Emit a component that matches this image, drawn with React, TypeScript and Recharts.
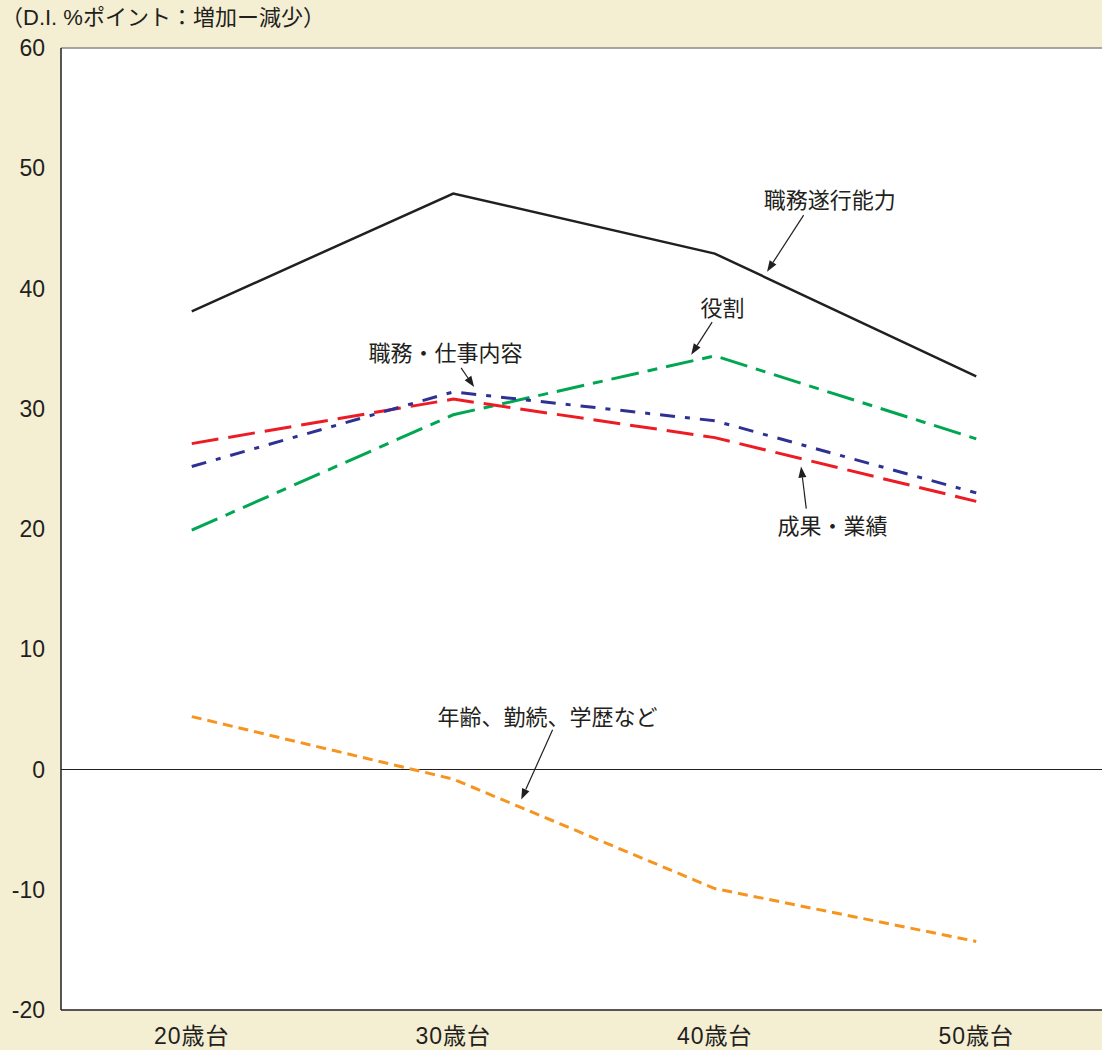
import React from 'react';
import {
  LineChart,
  Line,
  XAxis,
  YAxis,
  CartesianGrid,
  ReferenceLine,
  ReferenceDot,
} from 'recharts';

// Age groups along the horizontal axis
const ageGroups = ['20歳台', '30歳台', '40歳台', '50歳台'];

// D.I. (% points, increase minus decrease) for each evaluation factor
const jobPerformance = [38.1, 47.9, 42.9, 32.7]; // 職務遂行能力
const role = [19.9, 29.5, 34.4, 27.5]; // 役割
const jobContent = [25.2, 31.4, 29.0, 23.0]; // 職務・仕事内容
const results = [27.1, 30.8, 27.6, 22.3]; // 成果・業績
const seniority = [4.4, -0.8, -9.9, -14.3]; // 年齢、勤続、学歴など

const yTicks = [-20, -10, 0, 10, 20, 30, 40, 50, 60];
const xTicks = [0, 1, 2, 3];

// Callout labels with arrows, in data coordinates (x = age-group index, y = D.I.)
const callouts = [
  { text: '職務遂行能力', x: 2.44, y: 47.3, from: [2.34, 46.1], to: [2.2, 41.4] },
  { text: '役割', x: 2.03, y: 38.3, from: [1.99, 37.2], to: [1.91, 34.5] },
  { text: '職務・仕事内容', x: 0.97, y: 34.6, from: [1.03, 33.4], to: [1.08, 31.8] },
  { text: '成果・業績', x: 2.45, y: 20.2, from: [2.35, 21.7], to: [2.33, 25.2] },
  { text: '年齢、勤続、学歴など', x: 1.36, y: 4.3, from: [1.38, 3.3], to: [1.26, -2.5] },
];

const data = ageGroups.map((_, i) => ({
  idx: i,
  jobPerformance: jobPerformance[i],
  role: role[i],
  jobContent: jobContent[i],
  results: results[i],
  seniority: seniority[i],
}));

const FONT = "'Liberation Sans', 'Noto Sans CJK JP', sans-serif";
const INK = '#231f20';

const ArrowShape = (props: any) => {
  const { x1, y1, x2, y2 } = props;
  const ang = Math.atan2(y2 - y1, x2 - x1);
  const len = 11;
  const half = 4;
  const bx = x2 - len * Math.cos(ang);
  const by = y2 - len * Math.sin(ang);
  const px = -Math.sin(ang) * half;
  const py = Math.cos(ang) * half;
  return (
    <g>
      <line x1={x1} y1={y1} x2={bx} y2={by} stroke={INK} strokeWidth={1.2} />
      <polygon
        points={`${x2},${y2} ${bx + px},${by + py} ${bx - px},${by - py}`}
        fill={INK}
      />
    </g>
  );
};

const makeLabel = (text: string) => (props: any) => (
  <text
    x={props.cx}
    y={props.cy}
    textAnchor="middle"
    dominantBaseline="central"
    fontSize={22}
    fontFamily={FONT}
    fill={INK}
  >
    {text}
  </text>
);

export default function App() {
  return (
    <div
      style={{
        position: 'fixed',
        left: 0,
        top: 0,
        width: 1102,
        height: 1050,
        overflow: 'hidden',
        background: '#f4eed2',
        fontFamily: FONT,
      }}
    >
      <div
        style={{
          position: 'absolute',
          left: 1,
          top: 6,
          fontSize: 22,
          lineHeight: '24px',
          color: INK,
          whiteSpace: 'nowrap',
        }}
      >
        （D.I. %ポイント：増加ー減少）
      </div>
      <LineChart
        width={1107}
        height={1050}
        data={data}
        margin={{ top: 48, right: 0, bottom: 0, left: 0 }}
      >
        <CartesianGrid horizontal={false} vertical={false} fill="#ffffff" />
        <XAxis
          type="number"
          dataKey="idx"
          domain={[-0.5, 3.5]}
          ticks={xTicks}
          interval={0}
          tickFormatter={(v: number) => ageGroups[v]}
          height={40}
          tickSize={0}
          tickMargin={18}
          tickLine={false}
          axisLine={{ stroke: INK, strokeWidth: 1.5 }}
          tick={{ fontSize: 23, fill: INK, fontFamily: FONT, letterSpacing: 1 }}
        />
        <YAxis
          type="number"
          domain={[-20, 60]}
          ticks={yTicks}
          interval={0}
          width={61}
          tickSize={0}
          tickMargin={16}
          tickLine={false}
          axisLine={{ stroke: INK, strokeWidth: 1.5 }}
          tick={{ fontSize: 23, fill: INK, fontFamily: FONT }}
        />
        <ReferenceLine y={60} stroke="#8a8a8a" strokeWidth={1.5} />
        <ReferenceLine y={0} stroke={INK} strokeWidth={1} />

        <Line
          dataKey="seniority"
          stroke="#f7941d"
          strokeWidth={3}
          strokeDasharray="10 6"
          dot={false}
          isAnimationActive={false}
        />
        <Line
          dataKey="role"
          stroke="#00a651"
          strokeWidth={3}
          strokeDasharray="28 9 10 9"
          dot={false}
          isAnimationActive={false}
        />
        <Line
          dataKey="results"
          stroke="#ed1c24"
          strokeWidth={3}
          strokeDasharray="27 10"
          dot={false}
          isAnimationActive={false}
        />
        <Line
          dataKey="jobContent"
          stroke="#2e3192"
          strokeWidth={3}
          strokeDasharray="15 10 5 10"
          dot={false}
          isAnimationActive={false}
        />
        <Line
          dataKey="jobPerformance"
          stroke={INK}
          strokeWidth={2.5}
          dot={false}
          isAnimationActive={false}
        />

        {callouts.map((c) => (
          <ReferenceLine
            key={`arrow-${c.text}`}
            segment={[
              { x: c.from[0], y: c.from[1] },
              { x: c.to[0], y: c.to[1] },
            ]}
            ifOverflow="visible"
            shape={ArrowShape}
          />
        ))}
        {callouts.map((c) => (
          <ReferenceDot
            key={`label-${c.text}`}
            x={c.x}
            y={c.y}
            r={0}
            ifOverflow="visible"
            shape={makeLabel(c.text)}
          />
        ))}
      </LineChart>
    </div>
  );
}
